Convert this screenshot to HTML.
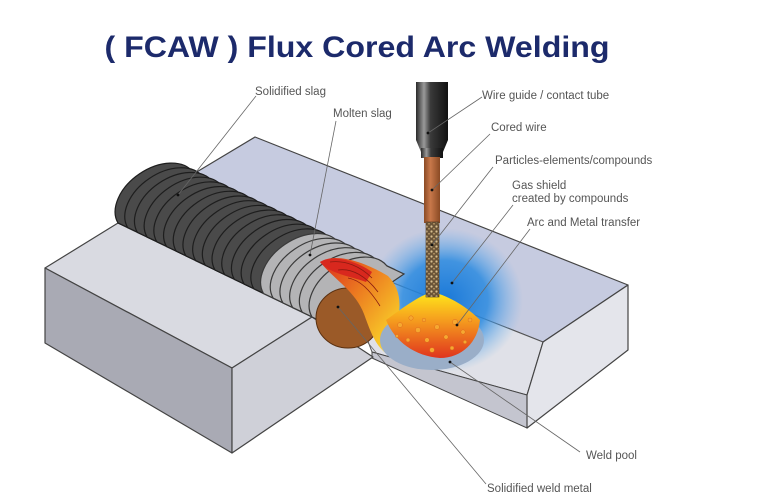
<!DOCTYPE html>
<html><head><meta charset="utf-8"><style>
html,body{margin:0;padding:0;background:#fff;}
svg{display:block;}
text{font-family:"Liberation Sans",sans-serif;}
.lb{font-size:11.5px;fill:#555;font-family:"Liberation Sans Narrow","Liberation Sans",sans-serif;}
.ld{stroke:#666;stroke-width:0.8;fill:none;}
</style></head><body>
<svg width="780" height="499" viewBox="0 0 780 499" xmlns="http://www.w3.org/2000/svg">
<defs>
<radialGradient id="glow" cx="0.5" cy="0.5" r="0.5">
<stop offset="0" stop-color="#1a78d8" stop-opacity="1"/>
<stop offset="0.55" stop-color="#2a8ae0" stop-opacity="0.85"/>
<stop offset="1" stop-color="#6ab0ee" stop-opacity="0"/>
</radialGradient>
<linearGradient id="pool" x1="0" y1="0" x2="0" y2="1">
<stop offset="0" stop-color="#ffe81a"/>
<stop offset="0.4" stop-color="#f6a21e"/>
<stop offset="1" stop-color="#e0341e"/>
</linearGradient>
<linearGradient id="flame" x1="0" y1="0" x2="1" y2="1">
<stop offset="0" stop-color="#d8281e"/>
<stop offset="0.4" stop-color="#ec7a20"/>
<stop offset="0.8" stop-color="#f8c828"/>
<stop offset="1" stop-color="#f8e070" stop-opacity="0.3"/>
</linearGradient>
<linearGradient id="tube" x1="0" y1="0" x2="1" y2="0">
<stop offset="0" stop-color="#2a2a2a"/>
<stop offset="0.25" stop-color="#9a9a9a"/>
<stop offset="0.45" stop-color="#3a3a3a"/>
<stop offset="1" stop-color="#111"/>
</linearGradient>
<linearGradient id="cu" x1="0" y1="0" x2="1" y2="0">
<stop offset="0" stop-color="#8a4a24"/>
<stop offset="0.4" stop-color="#c8784a"/>
<stop offset="1" stop-color="#8a4a24"/>
</linearGradient>
<pattern id="core" width="5" height="5" patternUnits="userSpaceOnUse">
<rect width="5" height="5" fill="#6a5438"/>
<circle cx="1.5" cy="1.5" r="1.1" fill="#d8c090"/>
<circle cx="4" cy="3.8" r="0.9" fill="#b89a68"/>
</pattern>
<path id="rib" d="M118,223 A45.4 30 -34.2 0 1 193,172 L210,180 L135,231Z"/>
</defs>

<text x="357" y="57" text-anchor="middle" font-size="30" font-weight="bold" fill="#1c2a6b" textLength="505" lengthAdjust="spacingAndGlyphs">( FCAW ) Flux Cored Arc Welding</text>

<!-- back plate top face -->
<polygon points="255,137 628,285 543,342 373,275 195,173" fill="#c6cbe0" stroke="#444" stroke-width="1.2" stroke-linejoin="round"/>
<!-- chamfer strip -->
<polygon points="373,275 543,342 527,395 372,352 360,320" fill="#e0e1e8" stroke="#555" stroke-width="1"/>
<polygon points="372,352 527,395 527,428 372,358" fill="#c4c5cf" stroke="#444" stroke-width="1"/>
<polygon points="543,342 628,285 628,350 527,428 527,395" fill="#e4e5eb" stroke="#444" stroke-width="1.2" stroke-linejoin="round"/>
<!-- left block -->
<polygon points="45,268 118,223 312,317 232,368" fill="#d9dae1" stroke="#444" stroke-width="1.2" stroke-linejoin="round"/>
<polygon points="45,268 232,368 232,453 45,343" fill="#a9aab4" stroke="#444" stroke-width="1.2" stroke-linejoin="round"/>
<polygon points="232,368 312,317 373,357 232,453" fill="#cfd0d8" stroke="#444" stroke-width="1.2" stroke-linejoin="round"/>

<ellipse cx="445" cy="300" rx="78" ry="72" fill="url(#glow)"/>

<!-- bead ribs -->
<g stroke-width="1.2">
<g fill="#4a4a4a" stroke="#1e1e1e">
<use href="#rib"/>
<use href="#rib" transform="translate(9.7,4.7)"/>
<use href="#rib" transform="translate(19.4,9.4)"/>
<use href="#rib" transform="translate(29.1,14.1)"/>
<use href="#rib" transform="translate(38.8,18.8)"/>
<use href="#rib" transform="translate(48.5,23.5)"/>
<use href="#rib" transform="translate(58.2,28.2)"/>
<use href="#rib" transform="translate(67.9,32.9)"/>
<use href="#rib" transform="translate(77.6,37.6)"/>
<use href="#rib" transform="translate(87.3,42.3)"/>
<use href="#rib" transform="translate(97,47)"/>
<use href="#rib" transform="translate(106.7,51.7)"/>
<use href="#rib" transform="translate(116.4,56.4)"/>
<use href="#rib" transform="translate(126.1,61.1)"/>
<use href="#rib" transform="translate(135.8,65.8)"/>
</g>
<g fill="#b4b4b6" stroke="#3a3a3a">
<use href="#rib" transform="translate(145.5,70.5)"/>
<use href="#rib" transform="translate(155.2,75.2)"/>
<use href="#rib" transform="translate(164.9,79.9)"/>
<use href="#rib" transform="translate(174.6,84.6)"/>
<use href="#rib" transform="translate(184.3,89.3)"/>
<use href="#rib" transform="translate(194,94)"/>
</g>
</g>

<ellipse cx="348" cy="318" rx="32" ry="30" fill="#9b5a28" stroke="#5a3010" stroke-width="1"/>
<path d="M320,262 C335,252 365,262 388,276 C398,286 402,300 398,318 C392,335 392,348 400,358 L393,358 C376,350 370,330 364,314 C356,292 335,280 320,262Z" fill="url(#flame)"/>
<path d="M320,262 C335,254 358,262 372,272 L366,282 C350,276 330,274 320,262Z" fill="#d8281e"/>
<g fill="none" stroke="#8a1a10" stroke-width="0.8">
<path d="M330,262 C345,260 360,266 372,278"/>
<path d="M338,270 C352,268 366,276 378,292"/>
<path d="M348,278 C360,280 370,290 380,306"/>
</g>

<ellipse cx="432" cy="340" rx="52" ry="30" fill="#9aaec8"/>
<path d="M386,320 C400,310 418,296 432,292 C450,296 468,308 480,320 C478,342 462,358 440,358 C415,356 395,342 386,320Z" fill="url(#pool)"/>
<g fill="#f6a830" stroke="#d8601a" stroke-width="0.4">
<circle cx="400" cy="325" r="2.5"/><circle cx="411" cy="318" r="2.2"/><circle cx="418" cy="330" r="2.6"/>
<circle cx="427" cy="340" r="2.3"/><circle cx="437" cy="327" r="2.5"/><circle cx="446" cy="337" r="2.2"/>
<circle cx="455" cy="322" r="2.6"/><circle cx="463" cy="332" r="2.2"/><circle cx="470" cy="320" r="2"/>
<circle cx="408" cy="340" r="2"/><circle cx="432" cy="350" r="2.4"/><circle cx="452" cy="348" r="2"/>
<circle cx="424" cy="320" r="1.8"/><circle cx="465" cy="342" r="1.8"/><circle cx="397" cy="336" r="1.6"/>
</g>

<path d="M416,82 L448,82 L448,140 L443,152 L421,152 L416,140Z" fill="url(#tube)"/>
<rect x="421" y="148" width="22" height="10" fill="url(#tube)"/>
<rect x="424" y="157" width="16" height="66" fill="url(#cu)"/>
<rect x="426" y="222" width="13" height="75" fill="url(#core)" stroke="#4a3420" stroke-width="0.6"/>

<g class="ld">
<line x1="256" y1="96" x2="178" y2="195"/>
<line x1="336" y1="121" x2="310" y2="255"/>
<line x1="482" y1="97" x2="428" y2="133"/>
<line x1="490" y1="134" x2="432" y2="190"/>
<line x1="493" y1="167" x2="432" y2="245"/>
<line x1="513" y1="205" x2="452" y2="283"/>
<line x1="530" y1="229" x2="457" y2="325"/>
<line x1="580" y1="452" x2="450" y2="362"/>
<line x1="486" y1="484" x2="338" y2="307"/>
</g>
<g fill="#111">
<circle cx="178" cy="195" r="1.4"/><circle cx="310" cy="255" r="1.4"/>
<circle cx="428" cy="133" r="1.4"/><circle cx="432" cy="190" r="1.4"/>
<circle cx="432" cy="245" r="1.4"/><circle cx="452" cy="283" r="1.4"/>
<circle cx="457" cy="325" r="1.4"/><circle cx="450" cy="362" r="1.4"/>
<circle cx="338" cy="307" r="1.4"/>
</g>

<text class="lb" x="255" y="95">Solidified slag</text>
<text class="lb" x="333" y="117">Molten slag</text>
<text class="lb" x="482" y="99">Wire guide / contact tube</text>
<text class="lb" x="491" y="131">Cored wire</text>
<text class="lb" x="495" y="164">Particles-elements/compounds</text>
<text class="lb" x="512" y="189">Gas shield</text>
<text class="lb" x="512" y="202">created by compounds</text>
<text class="lb" x="527" y="226">Arc and Metal transfer</text>
<text class="lb" x="586" y="459">Weld pool</text>
<text class="lb" x="487" y="492">Solidified weld metal</text>
</svg>
</body></html>
